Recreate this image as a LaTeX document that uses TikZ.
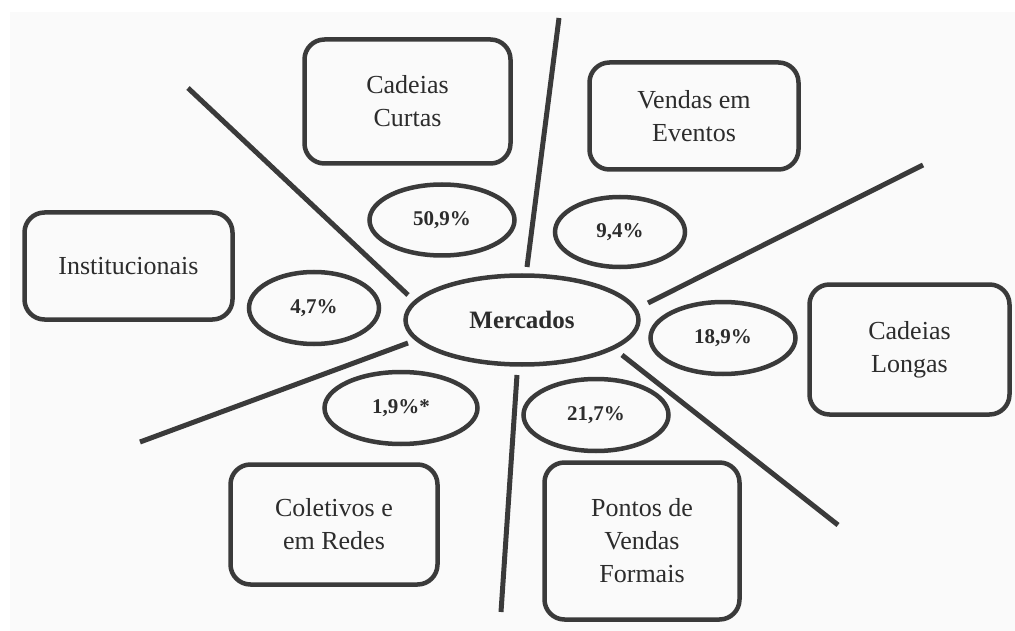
\documentclass[tikz,border=0pt]{standalone}
\usepackage{fontspec}
\setmainfont{Liberation Serif}
\usetikzlibrary{shapes.geometric}
\definecolor{ink}{HTML}{3A3A3A}
\definecolor{txt}{HTML}{2C2C2C}
\definecolor{paper}{HTML}{FAFAFA}
\begin{document}
\begin{tikzpicture}[x=1pt,y=-1pt,
  box/.style={draw=ink, line width=4.5pt, rounded corners=20pt, align=center,
    inner sep=0pt, text=txt, font=\fontsize{26}{33}\selectfont},
  pct/.style={draw=ink, line width=4.5pt, ellipse, inner sep=0pt, text=txt,
    font=\bfseries\fontsize{21}{25}\selectfont},
  divider/.style={draw=ink, line width=5pt}]
\useasboundingbox (0,0) rectangle (1015,631);
\fill[white] (0,0) rectangle (1015,631);
\fill[paper] (10,12) rectangle (1015,631);

% boxes
\node[box, minimum width=206pt, minimum height=124pt] (curtas) at (407.5,101.5) {Cadeias\\Curtas};
\node[box, minimum width=209pt, minimum height=107pt] (eventos) at (694,116) {Vendas em\\Eventos};
\node[box, minimum width=208pt, minimum height=107pt] (inst) at (128.5,266) {Institucionais};
\node[box, minimum width=200pt, minimum height=130pt] (longas) at (909.5,349.5) {Cadeias\\Longas};
\node[box, minimum width=207pt, minimum height=120pt] (coletivos) at (334,524.5) {Coletivos e\\em Redes};
\node[box, minimum width=195pt, minimum height=157pt] (pontos) at (642,541) {Pontos de\\Vendas\\Formais};

% ellipses
\node[pct, minimum width=233pt, minimum height=89pt, font=\bfseries\fontsize{25}{30}\selectfont] (merc) at (522,320) {Mercados};
\node[pct, minimum width=145pt, minimum height=71pt] (p509) at (442,220) {50,9\%};
\node[pct, minimum width=130pt, minimum height=70pt] (p94) at (620,232) {9,4\%};
\node[pct, minimum width=130pt, minimum height=72pt] (p47) at (314,308) {4,7\%};
\node[pct, minimum width=145pt, minimum height=72pt] (p189) at (723,338) {18,9\%};
\node[pct, minimum width=153pt, minimum height=72pt] (p19) at (401,408) {1,9\%*};
\node[pct, minimum width=145pt, minimum height=72pt] (p217) at (596,415) {21,7\%};

% dividers
\coordinate (a1) at (188,88);  \coordinate (a2) at (408,295);
\coordinate (b1) at (559,18);  \coordinate (b2) at (527,267);
\coordinate (c1) at (648,303); \coordinate (c2) at (923,165);
\coordinate (d1) at (622,355); \coordinate (d2) at (838,525);
\coordinate (e1) at (517,375); \coordinate (e2) at (501,612);
\coordinate (f1) at (408,343); \coordinate (f2) at (140,442);
\draw[divider] (a1) -- (a2);
\draw[divider] (b1) -- (b2);
\draw[divider] (c1) -- (c2);
\draw[divider] (d1) -- (d2);
\draw[divider] (e1) -- (e2);
\draw[divider] (f1) -- (f2);
\end{tikzpicture}
\end{document}
